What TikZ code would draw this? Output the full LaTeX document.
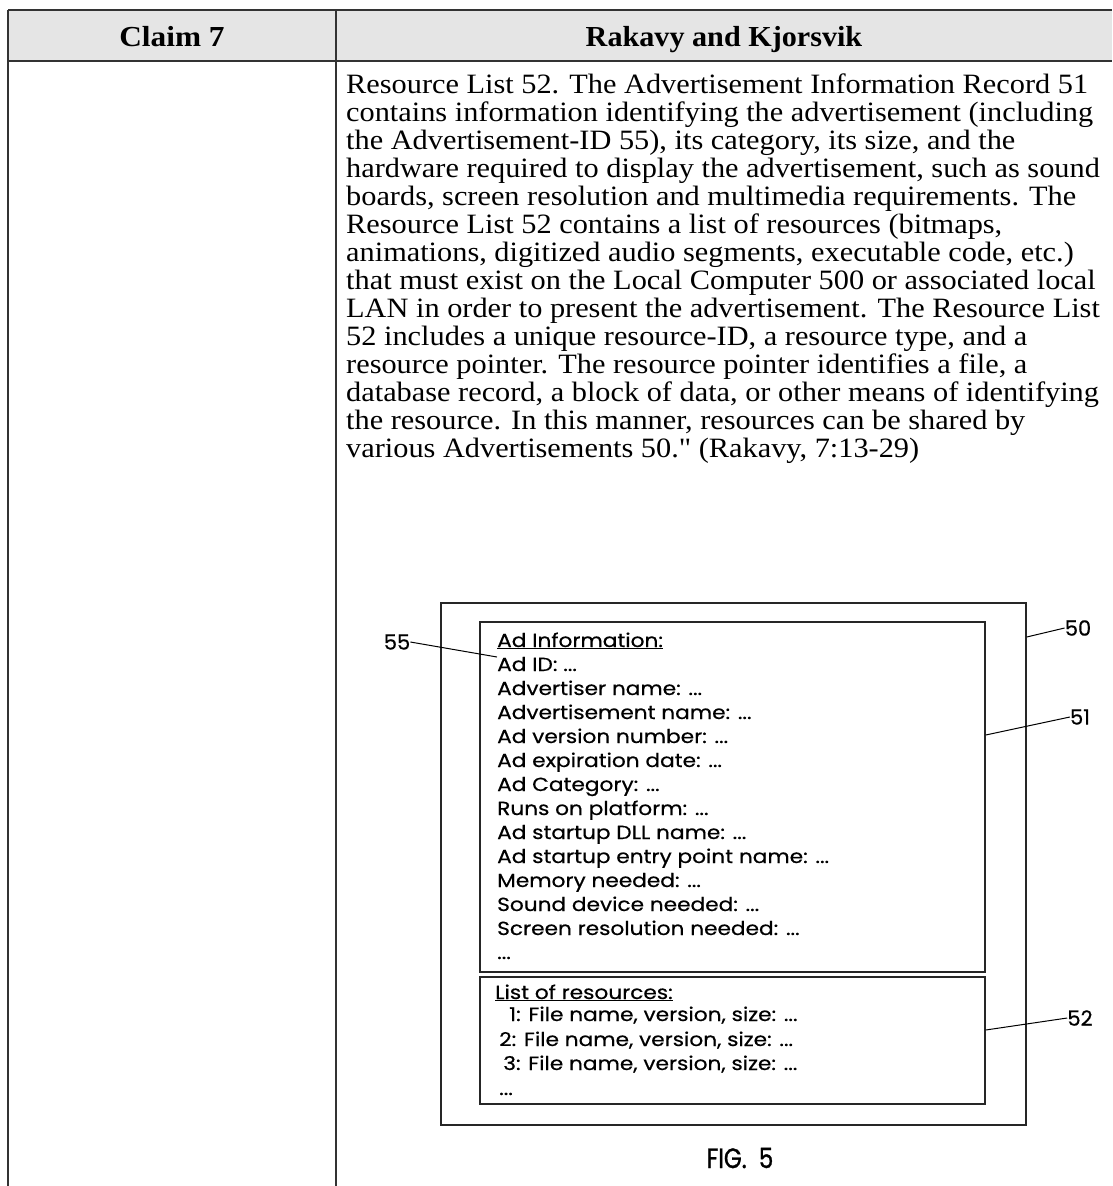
\documentclass[tikz,border=0pt]{standalone}
\usepackage{fontspec}
\setmainfont{Liberation Serif}
\newfontfamily\plainserif{Liberation Serif}[Ligatures=ResetAll]
\newfontfamily\figfont{Poppins}[FakeBold=0.5]
\newfontfamily\figfontB{Poppins}[FakeBold=1.2]
\newcommand{\wideB}[1]{\scalebox{1.083}[1]{#1}}
\newcommand{\wideH}[1]{\scalebox{1.04}[1]{#1}}
\newcommand{\wideF}[1]{\scalebox{1.14}[1]{#1}}
\tikzset{
  rule/.style={line width=1.6pt, draw=black!80},
  bodyline/.style={anchor=base west, inner sep=0pt, font=\fontsize{28}{28}\selectfont},
  headtext/.style={anchor=base, inner sep=0pt, font=\fontsize{29}{28}\selectfont\bfseries},
  figbox/.style={draw=black!85, line width=1.5pt},
  figline/.style={anchor=base west, inner sep=0pt, font=\figfont\fontsize{19}{20}\selectfont},
  reflabel/.style={anchor=center, inner sep=0pt, font=\figfont\fontsize{21}{22}\selectfont},
  leader/.style={draw=black, line width=1pt},
}
\begin{document}
\begin{tikzpicture}[x=1pt,y=-1pt]
\useasboundingbox (0,0) rectangle (1112,1186);
\fill[white] (0,0) rectangle (1112,1186);
% header
\fill[black!10] (8,10) rectangle (1112,61);
\draw[rule] (8,10) -- (1112,10);
\draw[rule] (8,61) -- (1112,61);
\draw[rule] (8,10) -- (8,1186);
\draw[rule] (336,10) -- (336,1186);
\node[headtext] (h1) at (172,46) {\scalebox{1.08}[1]{Claim 7}};
\node[headtext] (h2) at (724,46) {\wideH{Rakavy and Kjorsvik}};
% body text
\node[bodyline] (l1) at (346,93) {\wideB{Resource List 52. The Advertisement Information Record 51}};
\node[bodyline] (l2) at (346,121) {\wideB{contains information identifying the advertisement (including}};
\node[bodyline] (l3) at (346,149) {\wideB{the Advertisement-ID 55), its category, its size, and the}};
\node[bodyline] (l4) at (346,177) {\wideB{hardware required to display the advertisement, such as sound}};
\node[bodyline] (l5) at (346,205) {\wideB{boards, screen resolution and multimedia requirements. The}};
\node[bodyline] (l6) at (346,233) {\wideB{Resource List 52 contains a list of resources (bitmaps,}};
\node[bodyline] (l7) at (346,261) {\wideB{animations, digitized audio segments, executable code, etc.)}};
\node[bodyline] (l8) at (346,289) {\wideB{that must exist on the Local Computer 500 or associated local}};
\node[bodyline] (l9) at (346,317) {\wideB{LAN in order to present the advertisement. The Resource List}};
\node[bodyline] (l10) at (346,345) {\wideB{52 includes a unique resource-ID, a resource type, and a}};
\node[bodyline] (l11) at (346,373) {\wideB{resource pointer. The resource pointer identifies a file, a}};
\node[bodyline] (l12) at (346,401) {\wideB{database record, a block of data, or other means of identifying}};
\node[bodyline] (l13) at (346,429) {\wideB{the resource. In this manner, resources can be shared by}};
\node[bodyline] (l14) at (346,457) {\wideB{various Advertisements 50.{\plainserif"} (Rakavy, 7:13-29)}};
% figure boxes
\node[figbox, minimum width=585pt, minimum height=522pt, inner sep=0pt] (b50) at (733.5,864) {};
\node[figbox, minimum width=505pt, minimum height=350pt, inner sep=0pt] (b51) at (732.5,797) {};
\node[figbox, minimum width=505pt, minimum height=127pt, inner sep=0pt] (b52) at (732.5,1040.5) {};
% box 51 text
\node[figline] (t0) at (497,647) {\wideF{\underline{Ad Information:}}};
\node[figline] (t1) at (497,671) {\wideF{Ad ID: ...}};
\node[figline] (t2) at (497,695) {\wideF{Advertiser name: ...}};
\node[figline] (t3) at (497,719) {\wideF{Advertisement name: ...}};
\node[figline] (t4) at (497,743) {\wideF{Ad version number: ...}};
\node[figline] (t5) at (497,767) {\wideF{Ad expiration date: ...}};
\node[figline] (t6) at (497,791) {\wideF{Ad Category: ...}};
\node[figline] (t7) at (497,815) {\wideF{Runs on platform: ...}};
\node[figline] (t8) at (497,839) {\wideF{Ad startup DLL name: ...}};
\node[figline] (t9) at (497,863) {\wideF{Ad startup entry point name: ...}};
\node[figline] (t10) at (497,887) {\wideF{Memory needed: ...}};
\node[figline] (t11) at (497,911) {\wideF{Sound device needed: ...}};
\node[figline] (t12) at (497,935) {\wideF{Screen resolution needed: ...}};
\node[figline] (t13) at (497,959) {\wideF{...}};
% box 52 text
\node[figline] (r0) at (495,999) {\wideF{\underline{List of resources:}}};
\node[figline] (r1) at (509,1021) {\wideF{1: File name, version, size: ...}};
\node[figline] (r2) at (499,1046) {\wideF{2: File name, version, size: ...}};
\node[figline] (r3) at (503,1070) {\wideF{3: File name, version, size: ...}};
\node[figline] (r4) at (499,1095) {\wideF{...}};
% reference labels
\node[reflabel] (n55) at (397,642) {55};
\node[reflabel] (n50) at (1078,628) {50};
\node[reflabel] (n51) at (1080,717) {51};
\node[reflabel] (n52) at (1080,1018) {52};
\coordinate (p55) at (497,657);
\coordinate (p50) at (b50.east |- 0,637);
\coordinate (p51) at (b51.east |- 0,735);
\coordinate (p52) at (b52.east |- 0,1030);
\draw[leader] (n55.east) -- (p55);
\draw[leader] (p50) -- (n50.west);
\draw[leader] (p51) -- (n51.west);
\draw[leader] (p52) -- (n52.west);
\node[anchor=center, inner sep=0pt, font=\figfontB\fontsize{28}{30}\selectfont] (fig) at (740,1158) {\scalebox{0.82}[1]{FIG.\ \ 5}};
\end{tikzpicture}
\end{document}
